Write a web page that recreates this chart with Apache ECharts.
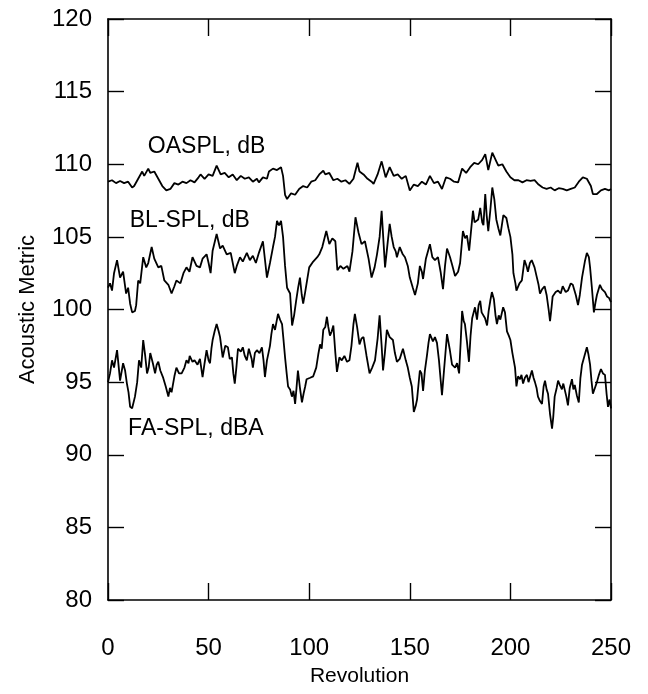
<!DOCTYPE html>
<html>
<head>
<meta charset="utf-8">
<script src="https://cdn.jsdelivr.net/npm/echarts@6/dist/echarts.min.js"></script>
<style>
  html, body { margin: 0; padding: 0; background: #fff; }
  #chart { width: 648px; height: 694px; }
</style>
</head>
<body>
<div id="chart"></div>
<script>
// Axis ticks
const xTicks = [0, 50, 100, 150, 200, 250];
const yTicks = [80, 85, 90, 95, 100, 105, 110, 115, 120];

// Overall sound pressure level, dB  [revolution, level]
const oaspl = [
  [0,108.8],[2,108.9],[4,108.7],[6,108.85],[8,108.7],[10,108.8],[12,108.4],[13,108.5],[15,109.0],[17,109.5],[18,109.2],[20,109.7],[21,109.4],[23,109.5],[25,109.0],[27,108.5],[29,108.2],[31,108.3],[33,108.7],[35,108.6],[37,108.8],[39,108.7],[41,108.9],[43,108.75],[45,109.1],[46,109.3],[48,109.0],[50,109.3],[52,109.2],[54,109.9],[56,109.3],[58,109.4],[60,109.1],[62,109.3],[64,108.9],[66,109.2],[68,109.0],[70,109.1],[72,108.8],[74,109.0],[75,108.75],[77,109.1],[79,109.0],[80,109.5],[82,109.7],[84,109.6],[86,109.8],[87,109.2],[88,107.9],[89,107.6],[91,108.0],[93,107.9],[95,108.3],[97,108.5],[99,108.4],[101,108.8],[103,108.9],[105,109.3],[107,109.55],[108,109.3],[110,109.4],[112,108.9],[114,109.0],[116,108.8],[118,108.9],[120,108.65],[122,109.0],[124,110.1],[125,109.5],[127,109.3],[129,109.0],[131,108.8],[132,108.65],[134,109.3],[136,110.2],[138,109.1],[140,109.8],[142,109.2],[144,109.3],[146,109.0],[148,109.2],[150,108.2],[152,108.6],[154,108.5],[156,108.8],[158,108.6],[160,109.2],[162,108.7],[164,108.8],[166,108.3],[168,109.1],[170,109.0],[172,108.8],[174,108.75],[176,109.7],[178,109.4],[180,109.8],[182,110.1],[184,110.0],[186,110.3],[187.5,110.7],[189,109.6],[191,110.8],[193,110.2],[194,109.9],[196,110.0],[198,109.5],[200,109.1],[202,108.9],[204,108.9],[206,108.75],[208,108.9],[210,108.85],[212,108.9],[214,108.6],[216,108.4],[218,108.3],[220,108.4],[222,108.2],[224,108.35],[226,108.3],[228,108.2],[230,108.3],[232,108.4],[234,108.8],[236,109.1],[238,109.0],[240,108.5],[241,107.95],[243,107.95],[245,108.2],[247,108.3],[249,108.2],[250,108.3]
];

// Broadband sound pressure level, dB
const blspl = [
  [0,101.5],[1,101.8],[2,101.3],[3,102.5],[4.5,103.4],[6,102.2],[7.5,102.6],[9,101.1],[10,101.5],[11,100.4],[12,99.8],[13.4,99.9],[14,100.3],[15,102.0],[16,101.8],[17.5,103.6],[19,102.9],[20,103.2],[21.7,104.3],[23,103.5],[25,102.9],[26.5,103.0],[28,102.0],[30,101.7],[31.6,101.1],[33,101.6],[34,102.0],[36,101.8],[37.5,102.5],[39,102.9],[40.5,102.6],[42,103.6],[44,103.0],[45.7,102.9],[47,103.5],[49,103.8],[50,103.2],[51,102.5],[52,104.05],[54,105.2],[55.7,104.2],[57,104.4],[59,103.8],[61,103.9],[63,102.5],[64,103.0],[65.6,103.6],[67,103.3],[69,103.9],[70.5,103.4],[72,103.7],[73.5,103.2],[75,103.9],[77,104.7],[79,102.2],[80.5,103.2],[82,104.3],[83,105.0],[84,106.1],[85,105.8],[86,106.1],[87,105.0],[88,103.0],[89,101.5],[90.5,101.1],[91.5,98.9],[92.5,99.6],[93.5,100.6],[94.5,101.5],[95.4,102.2],[96.3,101.0],[97,100.4],[98,101.2],[100,102.9],[102,103.3],[104,103.6],[105,103.8],[106.5,104.3],[108.5,105.4],[110,104.5],[111.5,104.9],[113,104.7],[114,102.7],[115.5,103.0],[117,102.8],[119,103.0],[120,102.6],[121.5,104.0],[123,106.35],[124.5,105.3],[126,104.5],[127.7,104.7],[129.5,103.5],[131,102.2],[132.5,102.9],[133.7,103.8],[135,105.0],[136,106.8],[137,104.5],[137.7,102.9],[139,104.6],[140,105.9],[141,105.0],[142,104.3],[143,104.0],[143.6,103.6],[145,104.3],[146.5,103.8],[147.6,103.6],[149,103.0],[150,102.2],[151.5,101.5],[152.6,101.0],[154,101.8],[155,103.0],[156,102.6],[156.6,102.1],[158,103.5],[160,104.5],[161.2,103.6],[162.5,103.4],[164,103.6],[165.3,102.6],[166.5,101.4],[167.5,103.0],[168.5,104.2],[170,103.6],[171,103.1],[172.5,102.3],[174,102.6],[175,103.2],[176.4,105.4],[177.5,104.9],[178.4,105.1],[179.5,104.05],[180.5,105.5],[181.4,106.8],[182.2,106.0],[183,105.9],[184,106.2],[185,107.0],[186,106.0],[186.6,105.8],[187.5,107.95],[188.2,106.5],[189,105.4],[190,106.8],[191,108.4],[192,107.6],[193,106.2],[194,105.6],[195,105.1],[196.5,106.5],[198,106.3],[199,105.6],[200,105.0],[201,103.8],[201.5,102.5],[202.5,101.8],[203,101.3],[204.5,101.8],[205.7,102.0],[207,103.4],[208,103.0],[208.7,102.6],[209.7,103.2],[210.6,103.4],[212,102.9],[213,102.3],[214,101.7],[214.7,101.1],[215.8,101.4],[217,101.6],[218,101.0],[219,100.0],[219.7,99.2],[220.5,100.2],[221,100.9],[222.5,101.2],[223.7,101.3],[225,101.1],[226,101.6],[227.5,101.2],[228.6,101.3],[230,101.8],[231,101.7],[232.5,101.0],[233.6,100.3],[234.5,101.0],[235.6,102.2],[237,103.3],[238,103.9],[239,103.6],[239.6,102.9],[240.5,101.5],[241.5,99.8],[242.3,100.5],[243,101.0],[244.5,101.7],[245.5,101.4],[247,101.2],[248,100.9],[249,100.8],[250,100.5]
];

// A-weighted frequency-analysis sound pressure level, dBA
const faspl = [
  [0,95.0],[1,95.6],[2,96.5],[3,96.0],[4.5,97.2],[6,95.1],[7.5,96.3],[8.5,95.8],[9.4,94.9],[10.2,94.3],[11,93.3],[12,93.2],[13.4,94.0],[14.5,95.0],[15.4,96.5],[16.5,96.0],[17.5,97.9],[18.5,96.8],[19.4,95.6],[20.2,96.0],[21,97.0],[22.3,96.3],[23.4,95.6],[24.2,96.2],[25,96.4],[26,95.8],[27.3,95.35],[28.7,94.7],[30,94.0],[30.8,94.6],[31.6,94.3],[33,95.4],[34,96.0],[35.3,95.6],[36.6,95.6],[38,96.0],[39,96.5],[40,96.3],[40.6,96.8],[42,96.4],[43,96.5],[44.5,96.2],[45.7,96.6],[47,95.35],[48,96.3],[49,97.2],[50,96.5],[50.7,96.3],[51.4,97.3],[52,97.9],[53,98.5],[54,99.0],[55,98.5],[55.7,98.1],[57,96.7],[58.3,97.5],[59.6,97.4],[60.5,96.6],[61.6,96.7],[62.3,95.6],[63,94.9],[63.8,96.0],[64.6,97.3],[66,97.1],[67,97.4],[68,96.8],[69,96.5],[70,97.3],[70.6,97.4],[71.4,96.6],[72,96.0],[73,97.0],[74,97.2],[75.3,97.0],[76.5,97.4],[77.3,96.5],[78,95.35],[79,96.5],[80.5,97.5],[81.2,98.3],[82,99.0],[83,98.6],[84.5,99.7],[85.5,99.3],[86.5,99.0],[87.3,97.8],[88,96.7],[88.8,95.6],[89.5,94.7],[90.5,94.5],[91.4,94.0],[92.2,94.4],[93,93.5],[93.7,94.6],[94.4,95.8],[95.4,94.6],[96.4,93.6],[97.2,94.2],[98,94.7],[98.7,95.2],[99.4,95.1],[100.5,95.3],[102,95.4],[103.5,96.0],[104.5,96.9],[105.4,97.6],[106.2,97.3],[107,98.6],[108,98.8],[108.8,99.5],[109.5,98.8],[110.3,98.2],[111.2,98.5],[112,98.9],[113,97.0],[113.8,95.7],[115,96.7],[116.2,96.5],[117.5,96.8],[118.8,96.4],[120,96.5],[121,97.5],[122,99.0],[122.7,99.7],[123.8,98.8],[125,97.6],[126,98.0],[127,98.1],[128.5,96.8],[130,95.6],[131.3,96.0],[132.7,96.5],[134,98.0],[135,99.6],[136,97.5],[136.7,95.8],[137.6,97.0],[138.6,98.6],[140,98.1],[141.6,97.9],[142.6,97.0],[143.6,96.4],[145,96.6],[146.6,97.3],[148,96.5],[149,96.0],[150,95.3],[151,94.7],[152,92.95],[153,93.4],[153.6,93.8],[154.3,94.8],[155,95.8],[155.8,95.6],[156.6,94.4],[157.5,95.8],[158.5,96.8],[159.3,97.7],[160,98.3],[161.5,97.8],[162.5,98.1],[163.5,97.7],[164.5,96.5],[165.3,95.2],[166,94.1],[167,95.8],[168.5,98.3],[169.8,97.3],[171,96.2],[172.5,96.0],[173.5,96.3],[174.5,95.6],[175.3,97.8],[176,99.9],[176.8,99.2],[177.4,99.0],[178.4,97.8],[179.4,96.4],[180.2,98.2],[181,99.4],[182.4,100.15],[183.4,99.3],[184.2,100.3],[185,100.6],[185.7,99.8],[186.4,99.7],[187.4,99.4],[188.4,98.9],[189.2,99.9],[190,100.6],[190.8,101.2],[191.8,100.7],[192.6,99.6],[193.3,99.0],[194.2,99.6],[195,99.3],[196.4,100.15],[197.3,99.8],[198.3,98.5],[199.2,98.2],[200,97.9],[201,97.0],[202.3,96.0],[203,94.7],[203.8,95.4],[204.8,95.2],[205.5,95.5],[206.3,94.9],[207.2,95.3],[208.2,95.5],[209,95.0],[209.7,95.1],[210.7,95.8],[211.5,95.3],[212.2,95.0],[213,94.6],[213.7,94.0],[214.7,93.7],[215.7,93.5],[216.5,94.7],[217.2,95.1],[218,94.5],[218.7,94.2],[219.7,92.8],[220.7,91.8],[221.3,92.6],[222,94.0],[223,94.6],[223.7,95.1],[224.6,94.8],[225.6,94.5],[226.3,94.9],[227,94.8],[227.8,94.0],[228.6,93.4],[229.5,94.6],[230.6,95.2],[231.3,94.5],[232,94.8],[233,94.1],[234,93.6],[234.8,95.3],[235.6,96.2],[236.8,96.8],[238,97.4],[238.8,96.9],[239.6,96.2],[240.3,95.1],[241,94.2],[242,94.6],[243,95.0],[244,95.5],[245,95.9],[246,95.6],[247,95.5],[247.8,94.2],[248.5,93.3],[249.3,93.8],[250,93.2]
];

// Curve annotations: [text, revolution, level] (text starts at the given point)
const curveLabels = [
  ['OASPL, dB', 19.8, 111.2],
  ['BL-SPL, dB', 10.8, 106.1],
  ['FA-SPL, dBA', 10, 91.8]
];

const FONT = '"Liberation Sans", Arial, Helvetica, sans-serif';
const INK = '#000';

const chart = echarts.init(document.getElementById('chart'), null, { renderer: 'canvas' });

const baseX = {
  type: 'value', min: xTicks[0], max: xTicks[xTicks.length - 1], interval: 50,
  axisLine: { show: true, onZero: false, lineStyle: { color: INK, width: 1.6 } },
  axisTick: { show: true, inside: true, length: 17, lineStyle: { color: INK, width: 1.4 } },
  splitLine: { show: false }
};
const baseY = {
  type: 'value', min: yTicks[0], max: yTicks[yTicks.length - 1], interval: 5,
  axisLine: { show: true, onZero: false, lineStyle: { color: INK, width: 1.6 } },
  axisTick: { show: true, inside: true, length: 16, lineStyle: { color: INK, width: 1.4 } },
  splitLine: { show: false }
};

const lineSeries = (name, data) => ({
  name, type: 'line', data, showSymbol: false, symbol: 'none',
  lineStyle: { color: INK, width: 1.8 }, animation: false, z: 3,
  silent: true
});

chart.setOption({
  animation: false,
  backgroundColor: '#fff',
  grid: { left: 108, width: 503, top: 19, height: 581 },
  xAxis: [
    Object.assign({}, baseX, {
      position: 'bottom',
      name: 'Revolution', nameLocation: 'middle', nameGap: 66,
      nameTextStyle: { fontFamily: FONT, fontSize: 21, color: INK },
      axisLabel: { margin: 36, fontFamily: FONT, fontSize: 24, color: INK }
    }),
    Object.assign({}, baseX, { position: 'top', axisLabel: { show: false } })
  ],
  yAxis: [
    Object.assign({}, baseY, {
      position: 'left',
      name: 'Acoustic Metric', nameLocation: 'middle', nameGap: 69,
      nameTextStyle: { fontFamily: FONT, fontSize: 22, color: INK },
      axisLabel: { margin: 16, fontFamily: FONT, fontSize: 24, color: INK }
    }),
    Object.assign({}, baseY, { position: 'right', axisLabel: { show: false } })
  ],
  series: [
    lineSeries('OASPL, dB', oaspl),
    lineSeries('BL-SPL, dB', blspl),
    lineSeries('FA-SPL, dBA', faspl),
    {
      type: 'scatter', symbolSize: 0, silent: true, z: 4,
      data: curveLabels.map(([t, x, y]) => ({ value: [x, y], name: t })),
      label: {
        show: true, position: 'right', distance: 0,
        formatter: p => p.name,
        fontFamily: FONT, fontSize: 23, color: INK, opacity: 1
      },
      itemStyle: { opacity: 1 }
    }
  ]
});
</script>
</body>
</html>
